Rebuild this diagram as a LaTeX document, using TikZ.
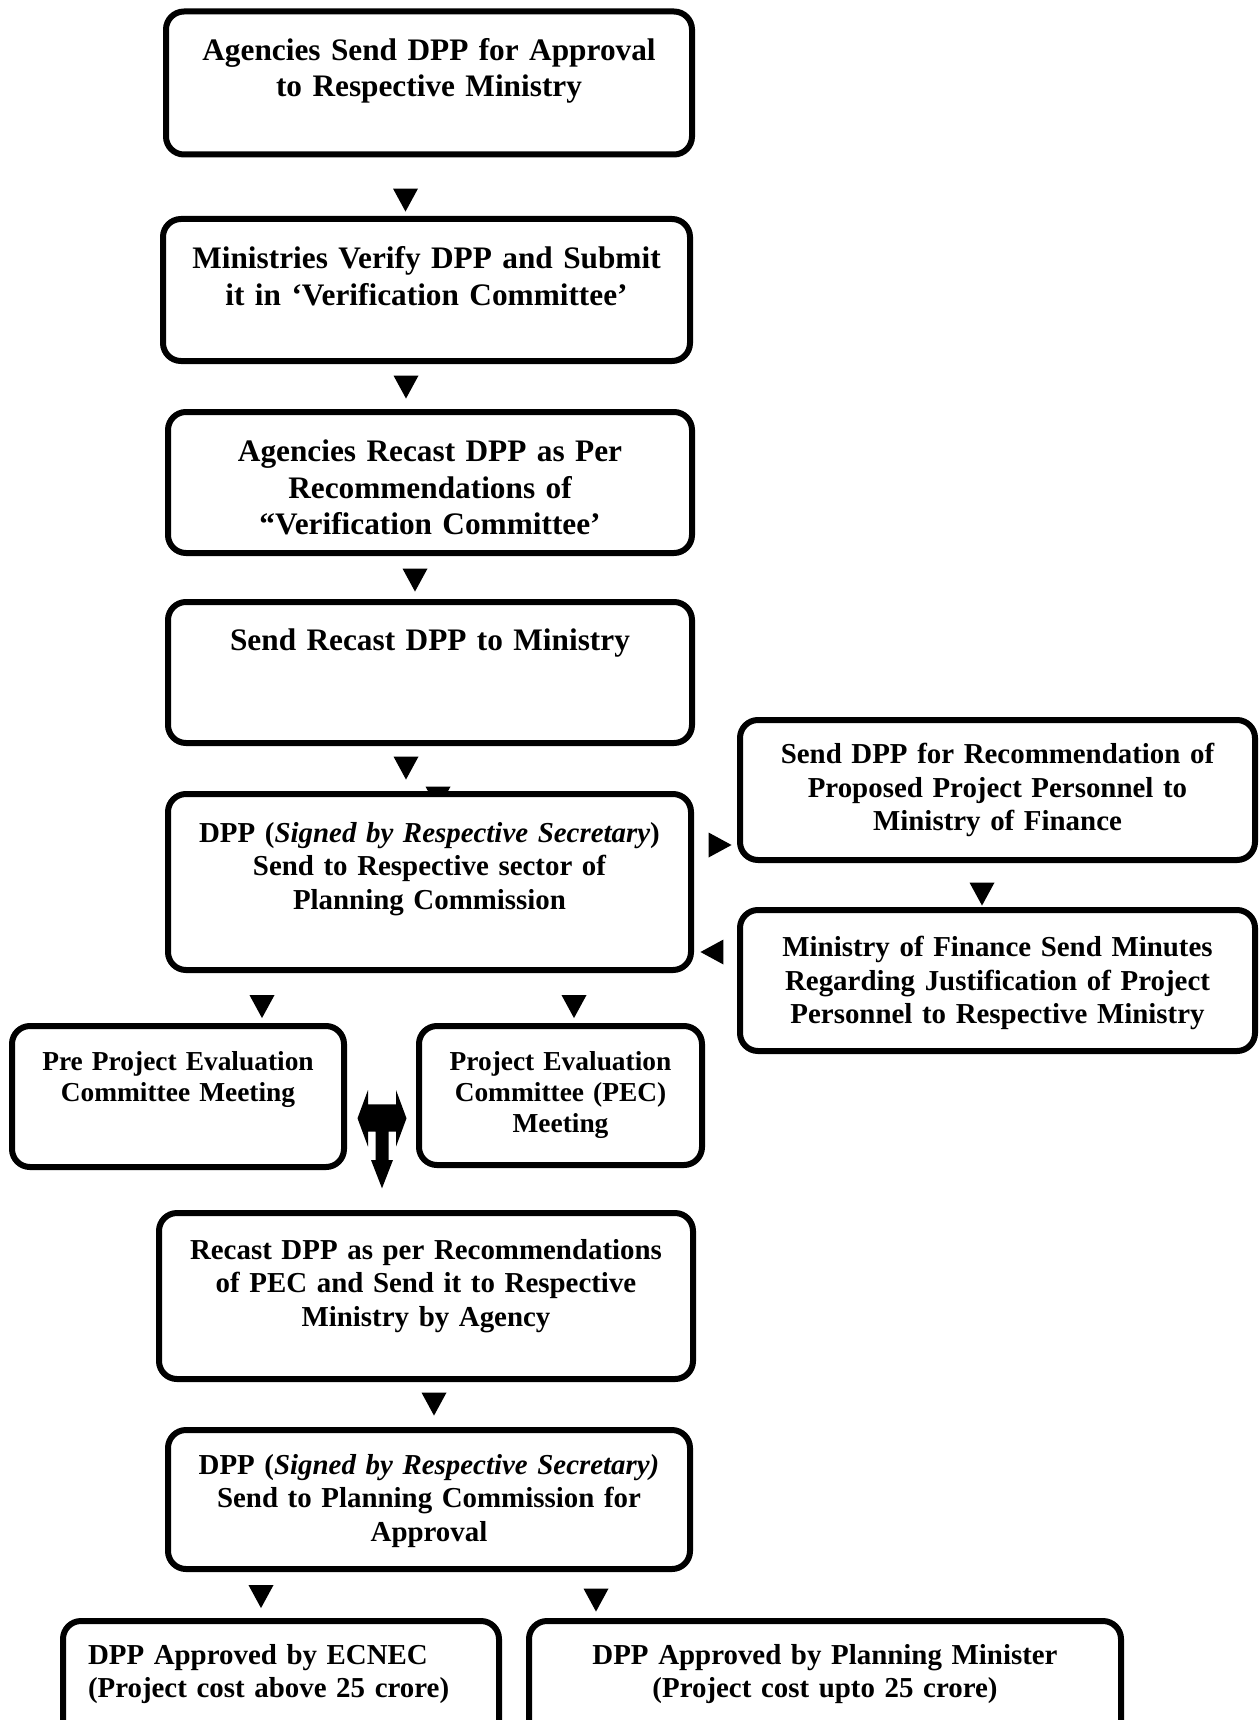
\documentclass[tikz,border=0pt]{standalone}
\usepackage{fontspec}
\setmainfont{Liberation Serif}
\usetikzlibrary{positioning,shapes.geometric,backgrounds}

\begin{document}
\begin{tikzpicture}[x=1pt,y=-1pt]
  % some styles
  \tikzset{
    box/.style={
      draw,
      fill=white,
      line width=6pt,
      rounded corners=18pt,
      inner sep=0pt,
      outer sep=0pt,
      anchor=north,
      align=center,
    },
    fbig/.style={font=\bfseries\fontsize{31.3}{36.5}\selectfont},
    fmid/.style={font=\bfseries\fontsize{28.9}{33.5}\selectfont},
    fsmall/.style={font=\bfseries\fontsize{27.4}{31}\selectfont},
    head/.style={
      isosceles triangle,
      isosceles triangle stretches,
      fill=black,
      inner sep=0pt,
      outer sep=0pt,
      minimum width=25pt,
      minimum height=23pt,
    },
    headdown/.style={head,shape border rotate=-90},
    headright/.style={head,shape border rotate=0},
    headleft/.style={head,shape border rotate=180},
  }
  \useasboundingbox (0,0) rectangle (1259,1720);

  % main column
  \node[box,fbig,text width=526pt,text height=49pt,text depth=94pt] (agency) at (429,11.5)
    {Agencies Send DPP for Approval\\to Respective Ministry};
  \node[box,fbig,text width=527pt,text height=49.5pt,text depth=92.5pt] (verify) at (426.5,219)
    {Ministries Verify DPP and Submit\\it in ‘Verification Committee’};
  \node[box,fbig,text width=524pt,text height=49.5pt,text depth=91.5pt] (recast) at (430,412)
    {Agencies Recast DPP as Per\\Recommendations of\\“Verification Committee’};
  \node[box,fbig,text width=524pt,text height=48.5pt,text depth=92.5pt] (sendmin) at (430,602)
    {Send Recast DPP to Ministry};
  \node[box,fmid,text width=523pt,text height=48pt,text depth=128pt] (sector) at (429.5,794)
    {DPP (\textit{Signed by Respective Secretary})\\Send to Respective sector of\\Planning Commission};

  % finance branch
  \node[box,fmid,text width=515pt,text height=43.5pt,text depth=96.5pt] (finance) at (997.5,720)
    {Send DPP for Recommendation of\\Proposed Project Personnel to\\Ministry of Finance};
  \node[box,fmid,text width=515pt,text height=46.5pt,text depth=94.5pt] (minutes) at (997.5,910)
    {Ministry of Finance Send Minutes\\Regarding Justification of Project\\Personnel to Respective Ministry};

  % evaluation meetings
  \node[box,fsmall,text width=332pt,text height=44.5pt,text depth=96.5pt] (prepec) at (178,1026)
    {Pre Project Evaluation\\Committee Meeting};
  \node[box,fsmall,text width=283pt,text height=44.5pt,text depth=94.5pt] (pec) at (560.5,1026)
    {Project Evaluation\\Committee (PEC)\\Meeting};

  \node[box,fmid,text width=534pt,text height=46pt,text depth=120pt] (pecrecast) at (426,1213)
    {Recast DPP as per Recommendations\\of PEC and Send it to Respective\\Ministry by Agency};
  \node[box,fmid,text width=522pt,text height=44pt,text depth=95pt] (planning) at (429,1430)
    {DPP (\textit{Signed by Respective Secretary)}\\Send to Planning Commission for\\Approval};

  % approval
  \node[box,fmid,align=left,inner xsep=25pt,text width=386pt,text height=43pt,text depth=97pt] (ecnec) at (281,1621)
    {DPP Approved by ECNEC\\(Project cost above 25 crore)};
  \node[box,fmid,text width=592pt,text height=43pt,text depth=97pt] (minister) at (825,1621)
    {DPP Approved by Planning Minister\\(Project cost upto 25 crore)};

  % arrow heads
  \node[headdown] (h-agency) at (405.5,196) {};
  \node[headdown] (h-verify) at (406,383) {};
  \node[headdown] (h-recast) at (415,576) {};
  \node[headdown] (h-sendmin) at (406,764) {};
  \node[headright] (h-finance) at (716,845) {};
  \node[headdown] (h-minutes) at (982,890) {};
  \node[headleft] (h-back) at (716,952) {};
  \node[headdown] (h-prepec) at (262,1002.5) {};
  \node[headdown] (h-pec) at (574,1002.5) {};
  \node[headdown] (h-planning) at (434,1400) {};
  \node[headdown] (h-ecnec) at (261,1592.5) {};
  \node[headdown] (h-minister) at (596,1596) {};
  \begin{pgfonlayer}{background}
    % half hidden behind the box
    \node[headdown] (h-extra) at (438,794) {};
  \end{pgfonlayer}

  % left-right-down arrow between the meetings
  \coordinate (meet) at (382,1118.3);
  \fill[shift={(meet)}]
    (-24.5,0) -- (-14,-28.3) -- (-14,-14) -- (14,-14) -- (14,-28.3) --
    (24.5,0) -- (14,28.3) -- (14,13.4) -- (6.5,13.4) -- (6.5,41.7) --
    (11,41.7) -- (0,70) -- (-11,41.7) -- (-6.5,41.7) -- (-6.5,13.4) --
    (-14,13.4) -- (-14,28.3) -- cycle;
\end{tikzpicture}
\end{document}
